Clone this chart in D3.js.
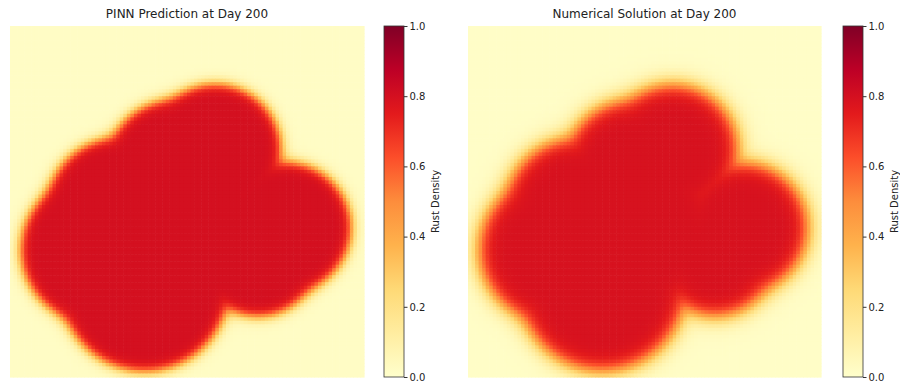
<!DOCTYPE html>
<html>
<head>
<meta charset="utf-8">
<script src="https://cdn.jsdelivr.net/npm/d3@7"></script>
<style>
  body { margin: 0; background: #fff; }
  text { font-family: "DejaVu Sans", sans-serif; fill: #222; }
</style>
</head>
<body>
<div id="chart"></div>
<script>
// grid is 100 x 100 cells, coordinates in cell units
const gridSize = 100;

// rust patch described as overlapping lobes: [cx, cy, r]
const lobes = [
  [57.9, 35.3, 18.9],
  [46.0, 40.0, 19.0],
  [30.5, 52.0, 20.3],
  [24.0, 63.8, 21.2],
  [77.7, 57.5, 18.9],
  [38.0, 74.6, 24.0],
  [70.0, 66.0, 17.0],
  [48.0, 58.1, 24.0]
];

const panelTitles = ['PINN Prediction at Day 200', 'Numerical Solution at Day 200'];
const insideDensity = [0.80, 0.79];
const outsideDensity = [0.02, 0.015];
const edgeWidth = [0.9, 1.5];
const colorbarTicks = [0.0, 0.2, 0.4, 0.6, 0.8, 1.0];
const colorbarLabel = 'Rust Density';
// matplotlib YlOrRd anchors
const ylOrRd = ['#ffffcc', '#ffeda0', '#fed976', '#feb24c', '#fd8d3c',
                '#fc4e2a', '#e31a1c', '#bd0026', '#800026'];

const width = 900, height = 387;
const imgTop = 26, imgH = 351;
const panels = [
  { x: 10, w: 354, cbX: 384 },
  { x: 468, w: 353, cbX: 843 }
];
const cbW = 20;

const color = d3.scaleSequential(d3.piecewise(d3.interpolateRgb, ylOrRd)).domain([0, 1]);

const svg = d3.select('#chart').append('svg')
  .attr('width', width)
  .attr('height', height);

const defs = svg.append('defs');
const grad = defs.append('linearGradient')
  .attr('id', 'cbgrad')
  .attr('x1', 0).attr('y1', 1).attr('x2', 0).attr('y2', 0);
ylOrRd.forEach((c, i) => {
  grad.append('stop').attr('offset', i / (ylOrRd.length - 1)).attr('stop-color', c);
});

// soft union of the lobes, so the notches between them stay a bit rounded
const blend = 1.2;
const cells = [];
for (let j = 0; j < gridSize; j++) {
  for (let i = 0; i < gridSize; i++) {
    const px = i + 0.5, py = j + 0.5;
    let s = 0;
    for (const [cx, cy, r] of lobes) {
      s += Math.exp(-(Math.hypot(px - cx, py - cy) - r) / blend);
    }
    cells.push({ i, j, d: -blend * Math.log(s) });
  }
}

panels.forEach((p, k) => {
  const x = d3.scaleBand().domain(d3.range(gridSize)).range([p.x, p.x + p.w]);
  const y = d3.scaleBand().domain(d3.range(gridSize)).range([imgTop, imgTop + imgH]);

  const value = c => outsideDensity[k] +
    (insideDensity[k] - outsideDensity[k]) / (1 + Math.exp(c.d / edgeWidth[k]));

  svg.append('g')
    .selectAll('rect')
    .data(cells)
    .join('rect')
      .attr('x', c => x(c.i))
      .attr('y', c => y(c.j))
      .attr('width', x.bandwidth() + 0.6)
      .attr('height', y.bandwidth() + 0.6)
      .attr('fill', c => color(value(c)));

  svg.append('text')
    .attr('x', p.x + p.w / 2)
    .attr('y', 18)
    .attr('text-anchor', 'middle')
    .style('font-size', '12px')
    .text(panelTitles[k]);

  // colorbar
  const cbScale = d3.scaleLinear().domain([0, 1]).range([imgTop + imgH, imgTop]);
  svg.append('rect')
    .attr('x', p.cbX)
    .attr('y', imgTop)
    .attr('width', cbW)
    .attr('height', imgH)
    .attr('fill', 'url(#cbgrad)')
    .attr('stroke', '#333')
    .attr('stroke-width', 0.8);

  const axis = svg.append('g')
    .attr('transform', 'translate(' + (p.cbX + cbW) + ',0)')
    .call(d3.axisRight(cbScale)
      .tickValues(colorbarTicks)
      .tickSize(3.5)
      .tickPadding(2)
      .tickFormat(d3.format('.1f')));
  axis.select('.domain').remove();
  axis.selectAll('line').attr('stroke', '#333');
  axis.selectAll('text')
    .style('font-size', '10px')
    .style('font-family', '"DejaVu Sans", sans-serif')
    .attr('fill', '#222');

  svg.append('text')
    .attr('transform', 'translate(' + (p.cbX + 51) + ',' + (imgTop + imgH / 2) + ') rotate(-90)')
    .attr('text-anchor', 'middle')
    .attr('dy', '0.35em')
    .style('font-size', '10px')
    .text(colorbarLabel);
});
</script>
</body>
</html>
